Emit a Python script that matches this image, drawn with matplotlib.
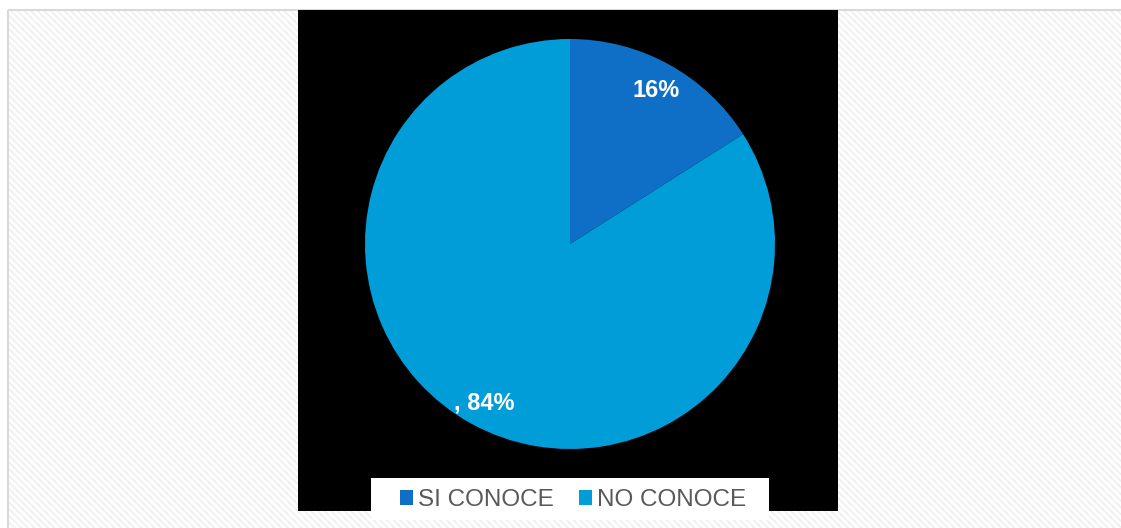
import matplotlib.pyplot as plt
from matplotlib.patches import Rectangle, Patch

# data
categories = ['SI CONOCE', 'NO CONOCE']
shares = [16, 84]
label_prefix = ['', ', ']
colors = ['#0F6FC6', '#009DD9']

W, H = 1121, 528
plt.rcParams['font.family'] = ['Liberation Sans', 'DejaVu Sans']
plt.rcParams['hatch.linewidth'] = 1.2

fig = plt.figure(figsize=(W / 100., H / 100.), dpi=100)
fig.patch.set_facecolor('white')

# page background in pixel coordinates
bg = fig.add_axes([0, 0, 1, 1])
bg.set_xlim(0, W)
bg.set_ylim(H, 0)
bg.axis('off')
bg.add_patch(Rectangle((9, 11), W - 9, H - 11, facecolor='white',
                       edgecolor='#EFEFEF', hatch='\\' * 5, linewidth=0))
bg.add_patch(Rectangle((8, 10), W, H, facecolor='none',
                       edgecolor='#D9D9D9', linewidth=1.5))
bg.add_patch(Rectangle((298, 10), 540, 501, facecolor='black', linewidth=0))
bg.add_patch(Rectangle((371, 478), 398, 42, facecolor='white', linewidth=0))

# pie
cx, cy, r = 570, 244, 205
ax = fig.add_axes([(cx - r) / W, (H - cy - r) / H, 2 * r / W, 2 * r / H])
wedges, _, autotexts = ax.pie(shares, colors=colors, startangle=90,
                              counterclock=False, autopct='%1.0f%%',
                              pctdistance=0.87,
                              wedgeprops=dict(linewidth=0))
for t, pre in zip(autotexts, label_prefix):
    t.set_text(pre + t.get_text())
    t.set_color('white')
    t.set_fontsize(17)
    t.set_fontweight('bold')
    t.set_va('center_baseline')
ax.set_xlim(-1, 1)
ax.set_ylim(-1, 1)
ax.set_aspect('equal')

handles = [Patch(facecolor=c, edgecolor='none') for c in colors]
fig.legend(handles, categories, loc='center',
           bbox_to_anchor=(573. / W, 1 - 500. / H), ncol=2, frameon=False,
           fontsize=17.5, labelcolor='#595959', handlelength=0.55,
           handleheight=0.55, handletextpad=0.2, columnspacing=1.05)

fig.savefig('out.png', dpi=100)
